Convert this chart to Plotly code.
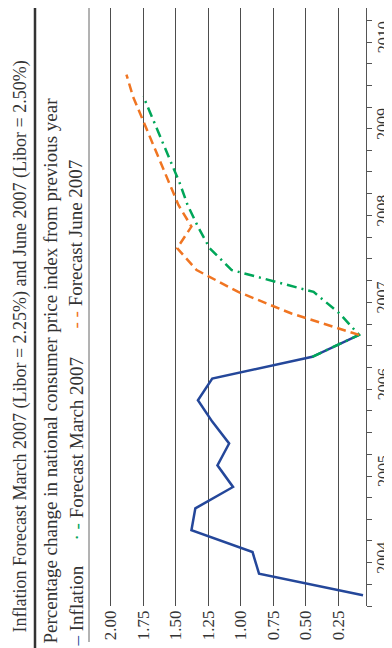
import pandas as pd
import plotly.graph_objects as go

# quarterly data, values in percent
infl_q = ["2004Q1", "2004Q2", "2004Q3", "2004Q4", "2005Q1", "2005Q2", "2005Q3",
          "2005Q4", "2006Q1", "2006Q2", "2006Q3", "2006Q4", "2007Q1"]
infl = [0.06, 0.86, 0.91, 1.38, 1.35, 1.06, 1.18, 1.09, 1.22, 1.33, 1.22, 0.45, 0.09]

march_q = ["2006Q4", "2007Q1", "2007Q2", "2007Q3", "2007Q4", "2008Q1", "2008Q2",
           "2008Q3", "2008Q4", "2009Q1", "2009Q2", "2009Q3", "2009Q4"]
march = [0.45, 0.09, 0.24, 0.44, 1.07, 1.24, 1.33, 1.41, 1.47, 1.54, 1.61, 1.68, 1.75]

june_q = ["2007Q1", "2007Q2", "2007Q3", "2007Q4", "2008Q1", "2008Q2", "2008Q3",
          "2008Q4", "2009Q1", "2009Q2", "2009Q3", "2009Q4", "2010Q1"]
june = [0.09, 0.61, 1.02, 1.34, 1.49, 1.38, 1.48, 1.55, 1.62, 1.69, 1.76, 1.83, 1.88]

value_ticks = [0.25, 0.50, 0.75, 1.00, 1.25, 1.50, 1.75, 2.00]
years = [2004, 2005, 2006, 2007, 2008, 2009, 2010]

BLUE = "#24479a"
GREEN = "#00a659"
ORANGE = "#f07522"
INK = "#333333"
FONT = "Liberation Serif"

# the page body adds 8px all round, so the figure is drawn 8px smaller
OFF = 8
W, H = 392 - OFF, 648 - OFF
L, R, T, B = 89 - OFF, 392 - 366, 0, 648 - 606


def mid_quarter(labels):
    return [pd.Period(q, freq="Q").start_time + pd.Timedelta(days=45) for q in labels]


# helpers: positions given in window pixels -> paper coords
def px(x):
    return (x - OFF - L) / (W - L - R)


def py(y):
    return (H - B - (y - OFF)) / (H - T - B)


fig = go.Figure()
fig.add_trace(go.Scatter(x=infl, y=mid_quarter(infl_q), mode="lines", name="Inflation",
                         line=dict(color=BLUE, width=2.5)))
fig.add_trace(go.Scatter(x=march, y=mid_quarter(march_q), mode="lines", name="Forecast March 2007",
                         line=dict(color=GREEN, width=2.5, dash="10px,5px,2px,5px")))
fig.add_trace(go.Scatter(x=june, y=mid_quarter(june_q), mode="lines", name="Forecast June 2007",
                         line=dict(color=ORANGE, width=2.5, dash="9px,5px")))

fig.update_xaxes(
    range=[2.168, 0.037],
    tickvals=value_ticks,
    ticktext=[f"{v:.2f}" for v in value_ticks],
    tickangle=-90,
    tickfont=dict(family=FONT, size=17, color=INK),
    showgrid=True, gridcolor="#4d4d4d", gridwidth=1.2,
    zeroline=False, showline=False, ticks="",
)
fig.update_yaxes(
    type="date",
    range=["2004-01-01", "2010-11-22"],
    side="right",
    showline=True, linecolor="#555555", linewidth=1,
    showgrid=False, zeroline=False,
    showticklabels=False,
    ticks="",
    minor=dict(
        tickvals=list(pd.date_range("2004-01-01", "2010-10-01", freq="QS")),
        ticks="outside", ticklen=5, tickcolor="#555555", showgrid=False,
    ),
)

# year labels sit in the middle of each year
for y in years:
    fig.add_annotation(x=px(383), xref="paper", y=f"{y}-07-01", yref="y", yshift=5,
                       text=str(y), textangle=-90, showarrow=False,
                       xanchor="center", yanchor="middle",
                       font=dict(family=FONT, size=16, color=INK))

# header: title, subtitle, legend (all rotated like the chart)
header = [
    (19.5, 347, 18, "Inflation Forecast March 2007 (Libor = 2.25%) and June 2007 (Libor = 2.50%)"),
    (50.5, 371, 19, "Percentage change in national consumer price index from previous year"),
    (75.5, 606, 19, f"<span style='color:{BLUE}'>–</span> Inflation"),
    (75.5, 449, 19, f"<span style='color:{GREEN}'>· -</span> Forecast March 2007"),
    (75.5, 244, 19, f"<span style='color:{ORANGE}'>- -</span> Forecast June 2007"),
]
for x, y, size, txt in header:
    fig.add_annotation(x=px(x), y=py(y), xref="paper", yref="paper", text=txt,
                       textangle=-90, showarrow=False, xanchor="center", yanchor="middle",
                       font=dict(family=FONT, size=size, color=INK))

fig.add_shape(type="line", xref="paper", yref="paper", x0=px(35), x1=px(35), y0=py(0), y1=py(656),
              line=dict(color="#333333", width=2.5))
fig.add_shape(type="line", xref="paper", yref="paper", x0=px(89), x1=px(89), y0=py(0), y1=py(642),
              line=dict(color="#666666", width=1))

fig.update_layout(
    width=W, height=H,
    margin=dict(l=L, r=R, t=T, b=B, pad=0),
    paper_bgcolor="white", plot_bgcolor="white",
    showlegend=False,
    font=dict(family=FONT, color=INK),
)

fig.write_html("out.html")
